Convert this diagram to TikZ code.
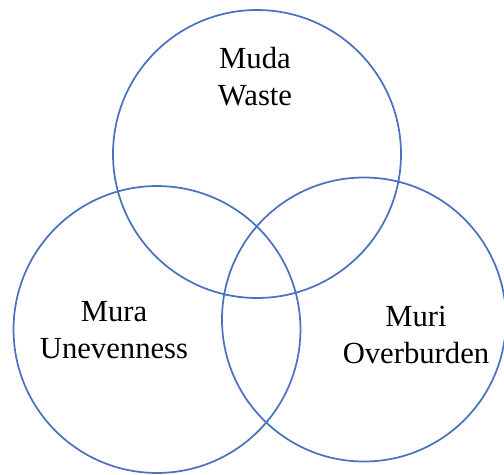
\documentclass[tikz,border=0pt]{standalone}
\usepackage{fontspec}
\setmainfont{Liberation Serif}
\definecolor{vblue}{HTML}{4A72BE}
\begin{document}
\begin{tikzpicture}[x=0.75pt,y=-0.75pt,
  ring/.style={draw=vblue,line width=1.3pt},
  lbl/.style={align=center,inner sep=0pt,font=\fontsize{23}{27.5}\selectfont}]
\useasboundingbox (0,0) rectangle (504,475);
\draw[ring] (257,154) circle [radius=108pt];
\draw[ring] (157,329.5) circle [radius=107.6pt];
\draw[ring] (364,319.5) circle [radius=106.5pt];
\node[lbl,anchor=base] (muda) at (255,105) {Muda\\Waste};
\node[lbl,anchor=base] (mura) at (114,358) {Mura\\Unevenness};
\node[lbl,anchor=base] (muri) at (416,363) {Muri\\Overburden};
\end{tikzpicture}
\end{document}
